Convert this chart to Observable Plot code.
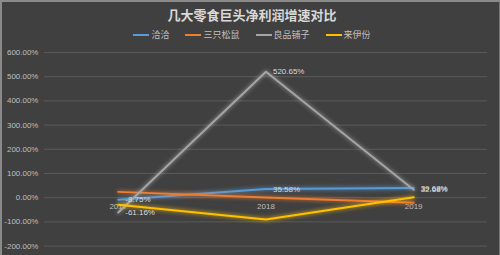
<!DOCTYPE html>
<html>
<head>
<meta charset="utf-8">
<script src="https://cdn.jsdelivr.net/npm/d3@7"></script>
<script src="https://cdn.jsdelivr.net/npm/@observablehq/plot@0.6"></script>
<style>
  html, body { margin: 0; padding: 0; background: #404040; }
  #wrap {
    position: relative; width: 500px; height: 255px; box-sizing: border-box;
    background: #404040; border-top: 2px solid #8a8a8a; border-left: 2px solid #8a8a8a;
    border-right: 1px solid #777; overflow: hidden;
    font-family: "Liberation Sans", "Noto Sans CJK SC", sans-serif;
  }
  #title {
    position: absolute; left: 0; top: 3px; width: 500px; text-align: center;
    font-family: "Noto Sans CJK SC", sans-serif; font-weight: bold; font-size: 13px; color: #d9d9d9;
  }
  #legend {
    position: absolute; left: 0; top: 26px; width: 500px; display: flex; justify-content: center;
    font-family: "Noto Sans CJK SC", sans-serif; font-size: 9px; color: #bfbfbf; gap: 0;
  }
  .item { display: flex; align-items: center; margin: 0 8px; }
  .sw { display: inline-block; width: 16px; height: 2px; margin-right: 2px; }
  #chart { position: absolute; left: -2px; top: 38px; }
</style>
</head>
<body>
<div id="wrap">
  <div id="title">几大零食巨头净利润增速对比</div>
  <div id="legend"></div>
  <div id="chart"></div>
</div>
<script>
const years = ["2017", "2018", "2019"];
const seriesNames = ["洽洽", "三只松鼠", "良品铺子", "来伊份"];
const colors = ["#5B9BD5", "#ED7D31", "#A5A5A5", "#FFC000"];
const qiaqia = [-8.75, 35.58, 39.68];
const songshu = [24, 1, -21];
const liangpin = [-61.16, 520.65, 32.68];
const laiyifen = [-29, -90.5, 1.5];
const labeled = ["洽洽", "良品铺子"];
const yTicks = [-200, -100, 0, 100, 200, 300, 400, 500, 600];

const allValues = [qiaqia, songshu, liangpin, laiyifen];
const data = [];
seriesNames.forEach((s, i) => years.forEach((y, j) => data.push({series: s, year: y, value: allValues[i][j]})));

const legend = document.getElementById("legend");
seriesNames.forEach((s, i) => {
  const it = document.createElement("div");
  it.className = "item";
  it.innerHTML = `<span class="sw" style="background:${colors[i]}"></span><span>${s}</span>`;
  legend.appendChild(it);
});

const fmt = d => d.toFixed(2) + "%";

const plot = Plot.plot({
  width: 500,
  height: 217,
  marginTop: 12,
  marginBottom: 11,
  marginLeft: 44,
  marginRight: 12,
  style: {background: "transparent", fontFamily: "Liberation Sans, Noto Sans CJK SC, sans-serif", fontSize: "8px"},
  x: {type: "point", domain: years, padding: 0.5, axis: null},
  y: {domain: [-200, 600], ticks: yTicks, tickFormat: fmt, label: null},
  color: {domain: seriesNames, range: colors},
  marks: [
    Plot.gridY(yTicks, {stroke: "#5a5a5a", strokeOpacity: 1, strokeWidth: 1}),
    Plot.axisY(yTicks, {tickSize: 0, tickPadding: 6, tickFormat: fmt, color: "#bfbfbf", fontSize: 8, label: null}),
    Plot.text(years, {x: d => d, y: () => 0, text: d => d, dy: 9, fill: "#bfbfbf", fontSize: 8}),
    Plot.line(data, {x: "year", y: "value", z: "series", stroke: "series", strokeWidth: 2}),
    Plot.text(data.filter(d => labeled.includes(d.series)), {
      x: "year", y: "value", text: d => fmt(d.value), dx: 7, textAnchor: "start", fill: "#d9d9d9", fontSize: 8
    })
  ]
});
document.getElementById("chart").appendChild(plot);
d3.select(plot).selectAll('g[aria-label="line"] path').each(function() {
  const c = this.getAttribute("stroke");
  this.style.filter = `drop-shadow(0 0 2px ${c})`;
});
</script>
</body>
</html>
